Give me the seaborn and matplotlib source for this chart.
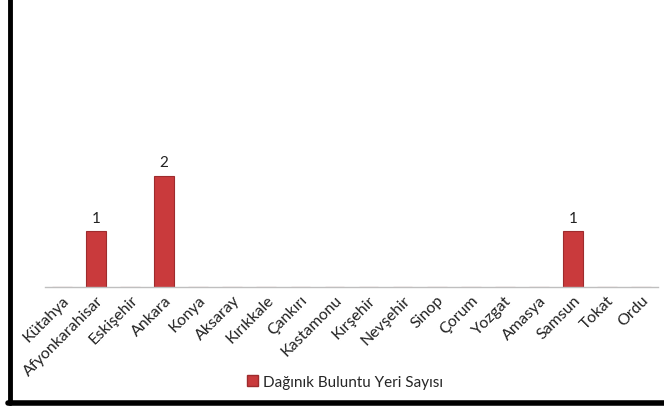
import matplotlib
matplotlib.use("Agg")
import matplotlib.pyplot as plt
import seaborn as sns
import pandas as pd
from matplotlib.lines import Line2D
from matplotlib.patches import Patch

# data
provinces = ["Kütahya", "Afyonkarahisar", "Eskişehir", "Ankara", "Konya", "Aksaray",
             "Kırıkkale", "Çankırı", "Kastamonu", "Kırşehir", "Nevşehir", "Sinop",
             "Çorum", "Yozgat", "Amasya", "Samsun", "Tokat", "Ordu"]
counts = [0, 1, 0, 2, 0, 0, 0, 0, 0, 0, 0, 0, 0, 0, 0, 1, 0, 0]
series_name = "Dağınık Buluntu Yeri Sayısı"

df = pd.DataFrame({"il": provinces, "sayi": counts})

sns.set_style("white")
plt.rcParams["font.family"] = ["Lato", "DejaVu Sans"]

bar_color = "#C93A3C"
fs = 11

fig = plt.figure(figsize=(6.64, 4.10), dpi=100)
ax = fig.add_axes([45 / 664, 1 - 288 / 410, (658 - 45) / 664, (288 - 10) / 410])

sns.barplot(data=df, x="il", y="sayi", color=bar_color, width=0.58,
            edgecolor="#9E2B2D", linewidth=0.8, saturation=1, ax=ax)

for i, v in enumerate(counts):
    if v > 0:
        ax.text(i, v + 0.12, str(v), ha="center", va="bottom", fontsize=fs, color="#222222")

ax.set_xlim(-0.5, 17.5)
ax.set_ylim(0, 5)
ax.set_xlabel("")
ax.set_ylabel("")
ax.set_yticks([])
ax.tick_params(axis="x", length=0, pad=4)
plt.setp(ax.get_xticklabels(), rotation=45, ha="right", rotation_mode="anchor",
         fontsize=11.5, color="#222222")
for side in ["top", "right", "left"]:
    ax.spines[side].set_visible(False)
ax.spines["bottom"].set_color("#BFBFBF")
ax.spines["bottom"].set_linewidth(1)

handle = Patch(facecolor=bar_color, edgecolor="#9E2B2D", label=series_name)
fig.legend(handles=[handle], loc="center", bbox_to_anchor=(345 / 664, 1 - 383 / 410),
           frameon=False, fontsize=fs, handlelength=0.7, handleheight=0.7,
           handletextpad=0.3)

# black frame lines (left and bottom)
fig.add_artist(Line2D([10 / 664, 10 / 664], [1 - 404 / 410, 1.0], transform=fig.transFigure,
                      color="black", linewidth=3.5))
fig.add_artist(Line2D([8 / 664, 1.0], [1 - 403.5 / 410, 1 - 403.5 / 410], transform=fig.transFigure,
                      color="black", linewidth=4))

fig.savefig("out.png", dpi=100)
